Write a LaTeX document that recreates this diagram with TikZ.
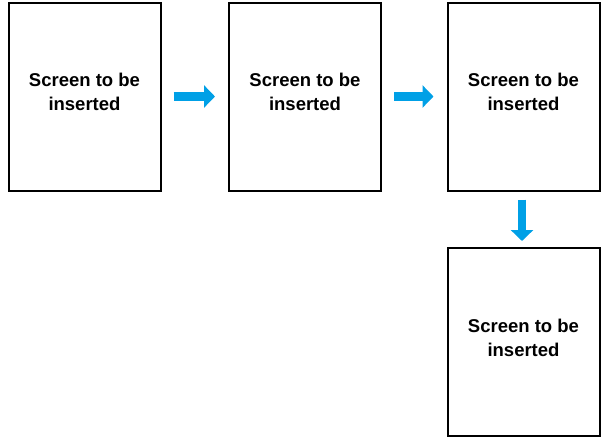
\documentclass[tikz,border=0pt]{standalone}
\usepackage{fontspec}
\setmainfont{Liberation Sans}
\usetikzlibrary{arrows.meta}
\definecolor{arrowblue}{RGB}{0,160,230}
\tikzset{
	screen/.style={draw, line width=2pt, minimum width=152pt, minimum height=188pt, align=center, text depth=9pt, font=\fontsize{18.5}{24}\selectfont\bfseries},
	flow/.style={arrowblue, line width=8.5pt, -{Triangle[width=22pt, length=11pt]}}
}
\begin{document}
\begin{tikzpicture}[x=1pt, y=-1pt]
		\useasboundingbox (0, 0) rectangle (602, 437);
		
		\node[screen] (s1) at (84.5, 96.5) {Screen to be\\inserted};
		\node[screen] (s2) at (305, 96.5) {Screen to be\\inserted};
		\node[screen] (s3) at (523.5, 96.5) {Screen to be\\inserted};
		\node[screen] (s4) at (523.5, 342) {Screen to be\\inserted};
		
		\draw[flow, shorten <=12pt, shorten >=13pt] (s1.east) -- (s2.west);
		\draw[flow, shorten <=12pt, shorten >=13pt] (s2.east) -- (s3.west);
		\draw[flow, shorten <=8pt, shorten >=6pt] (s3.south -| 522, 0) -- (s4.north -| 522, 0);
	\end{tikzpicture}
\end{document}
